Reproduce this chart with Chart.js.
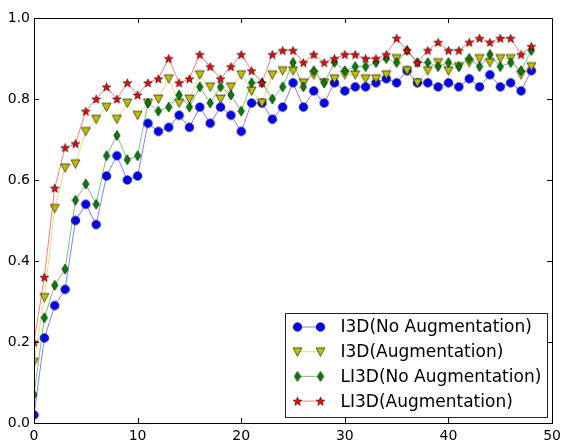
<!DOCTYPE html>
<html>
<head>
<meta charset="utf-8">
<script src="https://cdn.jsdelivr.net/npm/chart.js@4/dist/chart.umd.min.js"></script>
<style>
    body { margin: 0; background: #fff; }
    canvas { display: block; }
</style>
</head>
<body>
<canvas id="myChart" width="566" height="443"></canvas>
<script>
const epochs = [];
for (let i = 0; i <= 48; i++) epochs.push(i);

const i3dNoAug = [
    0.02, 0.21, 0.29, 0.33, 0.50, 0.54, 0.49, 0.61, 0.66, 0.60,
    0.61, 0.74, 0.72, 0.73, 0.76, 0.73, 0.78, 0.74, 0.78, 0.76,
    0.72, 0.79, 0.79, 0.75, 0.78, 0.84, 0.78, 0.82, 0.79, 0.84,
    0.82, 0.83, 0.83, 0.84, 0.85, 0.84, 0.87, 0.84, 0.84, 0.83,
    0.84, 0.83, 0.85, 0.83, 0.86, 0.83, 0.84, 0.82, 0.87
];
const i3dAug = [
    0.15, 0.31, 0.53, 0.63, 0.64, 0.72, 0.75, 0.78, 0.75, 0.79,
    0.76, 0.79, 0.80, 0.85, 0.79, 0.80, 0.86, 0.83, 0.80, 0.83,
    0.86, 0.82, 0.79, 0.86, 0.87, 0.87, 0.84, 0.86, 0.84, 0.85,
    0.86, 0.86, 0.85, 0.85, 0.86, 0.90, 0.87, 0.84, 0.87, 0.89,
    0.87, 0.88, 0.89, 0.90, 0.89, 0.90, 0.90, 0.86, 0.88
];
const li3dNoAug = [
    0.07, 0.26, 0.34, 0.38, 0.55, 0.59, 0.54, 0.66, 0.71, 0.65,
    0.66, 0.79, 0.77, 0.78, 0.81, 0.78, 0.83, 0.79, 0.83, 0.81,
    0.77, 0.84, 0.84, 0.80, 0.83, 0.89, 0.83, 0.87, 0.84, 0.89,
    0.87, 0.88, 0.88, 0.89, 0.90, 0.89, 0.92, 0.89, 0.89, 0.88,
    0.89, 0.88, 0.90, 0.88, 0.91, 0.88, 0.89, 0.87, 0.92
];
const li3dAug = [
    0.20, 0.36, 0.58, 0.68, 0.69, 0.77, 0.80, 0.83, 0.80, 0.84,
    0.81, 0.84, 0.85, 0.90, 0.84, 0.85, 0.91, 0.88, 0.85, 0.88,
    0.91, 0.87, 0.84, 0.91, 0.92, 0.92, 0.89, 0.91, 0.89, 0.90,
    0.91, 0.91, 0.90, 0.90, 0.91, 0.95, 0.92, 0.89, 0.92, 0.94,
    0.92, 0.92, 0.94, 0.95, 0.94, 0.95, 0.95, 0.91, 0.93
];
const seriesLabels = ["I3D(No Augmentation)", "I3D(Augmentation)", "LI3D(No Augmentation)", "LI3D(Augmentation)"];
const xTicks = [0, 10, 20, 30, 40, 50];
const yTicks = [0.0, 0.2, 0.4, 0.6, 0.8, 1.0];

// marker images, drawn once and handed to chart.js as pointStyle
function makeMarker(kind, fill) {
    const c = document.createElement("canvas");
    const w = kind === "diamond" ? 8 : 11;
    const h = 12;
    c.width = w;
    c.height = h;
    const ctx = c.getContext("2d");
    const cx = w / 2, cy = h / 2;
    ctx.beginPath();
    if (kind === "circle") {
        ctx.arc(cx, cy, 4.3, 0, Math.PI * 2);
    } else if (kind === "tri") {
        ctx.moveTo(cx - 4.5, cy - 4);
        ctx.lineTo(cx + 4.5, cy - 4);
        ctx.lineTo(cx, cy + 4.5);
        ctx.closePath();
    } else if (kind === "diamond") {
        ctx.moveTo(cx, cy - 5);
        ctx.lineTo(cx + 3.2, cy);
        ctx.lineTo(cx, cy + 5);
        ctx.lineTo(cx - 3.2, cy);
        ctx.closePath();
    } else {
        for (let i = 0; i < 10; i++) {
            const r = i % 2 === 0 ? 4.6 : 1.9;
            const a = -Math.PI / 2 + i * Math.PI / 5;
            const px = cx + r * Math.cos(a), py = cy + 0.5 + r * Math.sin(a);
            if (i === 0) ctx.moveTo(px, py); else ctx.lineTo(px, py);
        }
        ctx.closePath();
    }
    ctx.fillStyle = fill;
    ctx.fill();
    ctx.lineWidth = 0.6;
    ctx.strokeStyle = "#000";
    ctx.stroke();
    return c;
}

const styles = [
    { marker: makeMarker("circle", "#0000ff"), line: "rgba(0,0,255,0.5)" },
    { marker: makeMarker("tri", "#bfbf00"), line: "rgba(191,191,0,0.5)" },
    { marker: makeMarker("diamond", "#008000"), line: "rgba(0,128,0,0.5)" },
    { marker: makeMarker("star", "#ff0000"), line: "rgba(255,0,0,0.5)" }
];
const allSeries = [i3dNoAug, i3dAug, li3dNoAug, li3dAug];

const datasets = allSeries.map((values, s) => ({
    label: seriesLabels[s],
    data: values.map((v, i) => ({ x: epochs[i], y: v })),
    borderColor: styles[s].line,
    borderWidth: 1,
    pointStyle: styles[s].marker,
    pointRadius: 5,
    pointHoverRadius: 5,
    clip: 0,
    order: 3 - s
}));

// box, inward ticks on all sides, and a matplotlib style legend
const framePlugin = {
    id: "frame",
    afterDatasetsDraw(chart) {
        const ctx = chart.ctx;
        const a = chart.chartArea;
        const xs = chart.scales.x, ys = chart.scales.y;
        ctx.save();
        ctx.strokeStyle = "#000";
        ctx.lineWidth = 1;
        ctx.beginPath();
        xTicks.forEach(t => {
            const px = Math.round(xs.getPixelForValue(t)) + 0.5;
            ctx.moveTo(px, a.bottom); ctx.lineTo(px, a.bottom - 5);
            ctx.moveTo(px, a.top); ctx.lineTo(px, a.top + 5);
        });
        yTicks.forEach(t => {
            const py = Math.round(ys.getPixelForValue(t)) + 0.5;
            ctx.moveTo(a.left, py); ctx.lineTo(a.left + 5, py);
            ctx.moveTo(a.right, py); ctx.lineTo(a.right - 5, py);
        });
        ctx.stroke();
        ctx.strokeRect(Math.round(a.left) + 0.5, Math.round(a.top) + 0.5,
            Math.round(a.right - a.left), Math.round(a.bottom - a.top));

        // legend
        const bw = 262, bh = 104;
        const bx = Math.round(a.right - 5 - bw) + 0.5;
        const by = Math.round(a.bottom - 6.5 - bh) + 0.5;
        ctx.fillStyle = "#fff";
        ctx.fillRect(bx, by, bw, bh);
        ctx.strokeStyle = "#222";
        ctx.strokeRect(bx, by, bw, bh);
        ctx.font = "17px 'DejaVu Sans'";
        ctx.textBaseline = "middle";
        ctx.textAlign = "left";
        seriesLabels.forEach((label, s) => {
            const ry = by + 13.5 + s * 24.7;
            ctx.strokeStyle = styles[s].line;
            ctx.beginPath();
            ctx.moveTo(bx + 12, ry);
            ctx.lineTo(bx + 35, ry);
            ctx.stroke();
            const m = styles[s].marker;
            ctx.drawImage(m, bx + 12 - m.width / 2, ry - m.height / 2);
            ctx.drawImage(m, bx + 35 - m.width / 2, ry - m.height / 2);
            ctx.fillStyle = "#000";
            ctx.fillText(label, bx + 55, ry + 1);
        });
        ctx.restore();
    }
};

const tickFont = { family: "DejaVu Sans", size: 14 };

new Chart(document.getElementById("myChart"), {
    type: "line",
    data: { datasets },
    options: {
        responsive: false,
        animation: false,
        events: [],
        layout: { padding: { top: 18, right: 5, left: 0, bottom: 0 } },
        plugins: { legend: { display: false }, tooltip: { enabled: false } },
        scales: {
            x: {
                type: "linear",
                min: 0,
                max: 50,
                grid: { display: false, drawTicks: false },
                border: { display: false },
                afterFit: s => { s.height = 20; },
                afterBuildTicks: s => { s.ticks = xTicks.map(v => ({ value: v })); },
                ticks: { font: tickFont, color: "#000", padding: 5, maxRotation: 0 }
            },
            y: {
                min: 0,
                max: 1,
                grid: { display: false, drawTicks: false },
                border: { display: false },
                afterFit: s => { s.width = 34; },
                afterBuildTicks: s => { s.ticks = yTicks.map(v => ({ value: v })); },
                ticks: { font: tickFont, color: "#000", padding: 4, callback: v => v.toFixed(1) }
            }
        }
    },
    plugins: [framePlugin]
});
</script>
</body>
</html>
